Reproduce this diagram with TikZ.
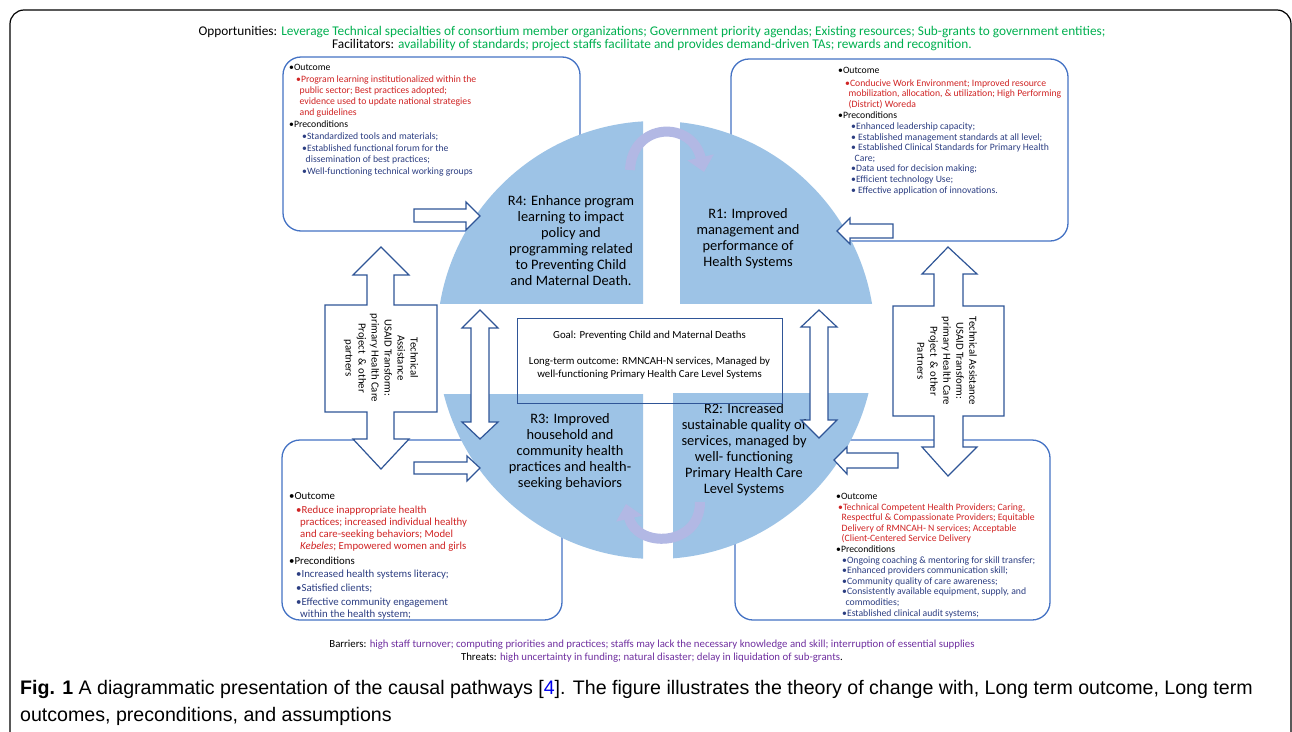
\documentclass[tikz,border=0pt]{standalone}
\usepackage{fontspec}
\setmainfont{Carlito}
\newfontfamily\capfont{Liberation Sans}
\usetikzlibrary{positioning, arrows.meta}

\definecolor{oppgreen}{RGB}{0,176,80}
\definecolor{barpurple}{RGB}{112,48,160}
\definecolor{outred}{RGB}{208,36,36}
\definecolor{prenavy}{RGB}{44,62,130}
\definecolor{boxblue}{RGB}{68,114,196}
\definecolor{arrowblue}{RGB}{47,85,151}
\definecolor{pieblue}{RGB}{157,195,230}
\definecolor{cyclec}{RGB}{178,184,228}
\definecolor{linkblue}{RGB}{0,0,238}

\tikzset{
corner box/.style={draw=boxblue, line width=1.3pt, rounded corners=18pt, fill=white, inner sep=0pt}, % the four outcome boxes
block arrow/.style={draw=arrowblue, line width=1.2pt, fill=white, line join=miter}, % white arrows with blue rim
result/.style={align=center, inner sep=0pt, font=\fontsize{14.4}{16}\selectfont}, % R1 .. R4 texts
notes/.style={align=left, anchor=north west, inner sep=0pt}, % bullet lists in the boxes
ta text/.style={align=center, rotate=-90, inner sep=0pt, font=\fontsize{10.8}{13}\selectfont},
cycle arrow/.style={line width=10pt, draw=cyclec, -{Triangle[width=26pt,length=15pt]}},
}

\newcommand{\outtxt}[1]{\textcolor{outred}{#1}}
\newcommand{\pretxt}[1]{\textcolor{prenavy}{#1}}

\begin{document}
\begin{tikzpicture}[x=1pt, y=-1pt]
\useasboundingbox (0,0) rectangle (1292,731);
\fill[white] (0,0) rectangle (1292,731);

% frame
\draw[line width=1.2pt, rounded corners=14pt] (10,745) -- (10,10) -- (1291,10) -- (1291,745);

\node[align=center, inner sep=0pt, font=\fontsize{13.3}{13}\selectfont] (opps) at (652,39)
    {Opportunities: \textcolor{oppgreen}{Leverage Technical specialties of consortium member organizations; Government priority agendas; Existing resources; Sub-grants to government entities;}\\
     Facilitators: \textcolor{oppgreen}{availability of standards; project staffs facilitate and provides demand-driven TAs; rewards and recognition.}};

% outcome boxes
\node[corner box, minimum width=297, minimum height=174] (tlbox) at (431.5,144) {};
\node[corner box, minimum width=337, minimum height=182] (trbox) at (899.5,150) {};
\node[corner box, minimum width=280, minimum height=180] (blbox) at (422,530) {};
\node[corner box, minimum width=315, minimum height=180] (brbox) at (892.5,530) {};

\node[notes, font=\fontsize{9.7}{11}\selectfont] (tlnotes) at (289,64) {%
\textbullet Outcome\\[1.5pt]
\hspace*{7pt}\outtxt{\textbullet Program learning institutionalized within the}\\
\hspace*{10.5pt}\outtxt{public sector; Best practices adopted;}\\
\hspace*{10.5pt}\outtxt{evidence used to update national strategies}\\
\hspace*{10.5pt}\outtxt{and guidelines}\\[1pt]
\textbullet Preconditions\\[1pt]
\hspace*{13pt}\pretxt{\textbullet Standardized tools and materials;}\\[1pt]
\hspace*{13pt}\pretxt{\textbullet Established functional forum for the}\\
\hspace*{16.5pt}\pretxt{dissemination of best practices;}\\[1pt]
\hspace*{13pt}\pretxt{\textbullet Well-functioning technical working groups}};

\node[notes, font=\fontsize{9.7}{10.6}\selectfont] (trnotes) at (838,67) {%
\textbullet Outcome\\[2pt]
\hspace*{7pt}\outtxt{\textbullet Conducive Work Environment; Improved resource}\\
\hspace*{10.5pt}\outtxt{mobilization, allocation, \& utilization; High Performing}\\
\hspace*{10.5pt}\outtxt{(District) Woreda}\\[1pt]
\textbullet Preconditions\\
\hspace*{13pt}\pretxt{\textbullet Enhanced leadership capacity;}\\
\hspace*{13pt}\pretxt{\textbullet\ Established management standards at all level;}\\
\hspace*{13pt}\pretxt{\textbullet\ Established Clinical Standards for Primary Health}\\
\hspace*{16.5pt}\pretxt{Care;}\\
\hspace*{13pt}\pretxt{\textbullet Data used for decision making;}\\
\hspace*{13pt}\pretxt{\textbullet Efficient technology Use;}\\
\hspace*{13pt}\pretxt{\textbullet\ Effective application of innovations.}};

\node[notes, font=\fontsize{10.8}{12}\selectfont] (blnotes) at (289,492.5) {%
\textbullet Outcome\\[2pt]
\hspace*{7pt}\outtxt{\textbullet Reduce inappropriate health}\\
\hspace*{11pt}\outtxt{practices; increased individual healthy}\\
\hspace*{11pt}\outtxt{and care-seeking behaviors; Model}\\
\hspace*{11pt}\outtxt{\textit{Kebeles}; Empowered women and girls}\\[3pt]
\textbullet Preconditions\\[1pt]
\hspace*{7pt}\pretxt{\textbullet Increased health systems literacy;}\\[2pt]
\hspace*{7pt}\pretxt{\textbullet Satisfied clients;}\\[2pt]
\hspace*{7pt}\pretxt{\textbullet Effective community engagement}\\
\hspace*{11pt}\pretxt{within the health system;}};

\node[notes, font=\fontsize{9.7}{10.6}\selectfont] (brnotes) at (836,493) {%
\textbullet Outcome\\
\hspace*{2pt}\outtxt{\textbullet Technical Competent Health Providers; Caring,}\\
\hspace*{5.5pt}\outtxt{Respectful \& Compassionate Providers; Equitable}\\
\hspace*{5.5pt}\outtxt{Delivery of RMNCAH- N services; Acceptable}\\
\hspace*{5.5pt}\outtxt{(Client-Centered Service Delivery}\\
\textbullet Preconditions\\
\hspace*{6pt}\pretxt{\textbullet Ongoing coaching \& mentoring for skill transfer;}\\
\hspace*{6pt}\pretxt{\textbullet Enhanced providers communication skill;}\\
\hspace*{6pt}\pretxt{\textbullet Community quality of care awareness;}\\
\hspace*{6pt}\pretxt{\textbullet Consistently available equipment, supply, and}\\
\hspace*{9.5pt}\pretxt{commodities;}\\
\hspace*{6pt}\pretxt{\textbullet Established clinical audit systems;}};

% the four quarters of the circle
\begin{scope}
\clip (400,100) rectangle (643,303);
\fill[pieblue] (656,340) circle[radius=219];
\end{scope}
\begin{scope}
\clip (680,100) rectangle (900,303);
\fill[pieblue] (656,340) circle[radius=219];
\end{scope}
\begin{scope}
\clip (400,394) rectangle (643,570);
\fill[pieblue] (656,340) circle[radius=219];
\end{scope}
\begin{scope}
\clip (673,393) rectangle (900,570);
\fill[pieblue] (656,340) circle[radius=219];
\end{scope}

\node[result] (r4) at (571,241) {R4: Enhance program\\learning to impact\\policy and\\programming related\\to Preventing Child\\and Maternal Death.};
\node[result] (r1) at (748,239) {R1: Improved\\management and\\performance of\\Health Systems};
\node[result] (r3) at (570,452) {R3: Improved\\household and\\community health\\practices and health-\\seeking behaviors};
\node[result] (r2) at (744,450) {R2: Increased\\sustainable quality of\\services, managed by\\well- functioning\\Primary Health Care\\Level Systems};

% cycle arrows between the quarters
\draw[cycle arrow] (630,170) .. controls (632,122) and (692,120) .. (704,172);
\draw[cycle arrow] (700,502) .. controls (700,548) and (636,548) .. (626,504);

% arrows from the boxes into the circle
\draw[block arrow] (414,209) -- (466,209) -- (466,202) -- (480,216) -- (466,230) -- (466,222) -- (414,222) -- cycle;
\draw[block arrow] (414,462) -- (467,462) -- (467,456) -- (480,468) -- (467,481) -- (467,474) -- (414,474) -- cycle;
\draw[block arrow] (893,224) -- (850,224) -- (850,218) -- (837,231) -- (850,244) -- (850,238) -- (893,238) -- cycle;
\draw[block arrow] (898,453) -- (847,453) -- (847,447) -- (834,460) -- (847,474) -- (847,468) -- (898,468) -- cycle;

% technical assistance arrows
\draw[block arrow] (381,247) -- (409,275) -- (394,275) -- (394,305) -- (437,305) -- (437,412) -- (394,412) -- (394,439)
    -- (409,439) -- (381,469) -- (353,439) -- (367,439) -- (367,412) -- (325,412) -- (325,305) -- (367,305) -- (367,275) -- (353,275) -- cycle;
\node[ta text] (taleft) at (381,358) {Technical\\Assistance\\USAID Transform:\\primary Health Care\\Project~ \& other\\partners};

\draw[block arrow] (948,247) -- (977,274) -- (963,274) -- (963,306) -- (1004,306) -- (1004,416) -- (963,416) -- (963,447)
    -- (977,447) -- (948,476) -- (922,447) -- (934,447) -- (934,416) -- (893,416) -- (893,306) -- (934,306) -- (934,274) -- (922,274) -- cycle;
\node[ta text] (taright) at (947,361) {Technical Assistance\\USAID Transform:\\primary Health Care\\Project~ \& other\\Partners};

% goal and long-term outcome
\node[draw=arrowblue, line width=1pt, minimum width=265, minimum height=85, inner sep=0pt] (goal) at (649.5,360.5) {};
\node[align=center, inner sep=0pt, font=\fontsize{10.8}{13}\selectfont] (goaltext) at (649.5,355)
    {Goal: Preventing Child and Maternal Deaths\\[13pt]Long-term outcome: RMNCAH-N services, Managed by\\well-functioning Primary Health Care Level Systems};

% small double arrows
\draw[block arrow] (480,310) -- (498,328) -- (489,328) -- (489,422) -- (498,422) -- (480,439) -- (462,422) -- (471,422) -- (471,328) -- (462,328) -- cycle;
\draw[block arrow] (819,310) -- (837,327) -- (828,327) -- (828,420) -- (837,420) -- (819,438) -- (801,420) -- (810,420) -- (810,327) -- (801,327) -- cycle;

\node[align=center, inner sep=0pt, font=\fontsize{10.8}{13}\selectfont] (barriers) at (652,651.5)
    {Barriers: \textcolor{barpurple}{high staff turnover; computing priorities and practices; staffs may lack the necessary knowledge and skill; interruption of essential supplies}\\
     Threats: \textcolor{barpurple}{high uncertainty in funding; natural disaster; delay in liquidation of sub-grants}.};

\node[anchor=west, align=left, inner sep=0pt, font=\capfont\fontsize{19.6}{27}\selectfont] (caption) at (20,702.5)
    {\textbf{Fig. 1} A diagrammatic presentation of the causal pathways [\textcolor{linkblue}{4}]. The figure illustrates the theory of change with, Long term outcome, Long term\\
     outcomes, preconditions, and assumptions};
\end{tikzpicture}
\end{document}
